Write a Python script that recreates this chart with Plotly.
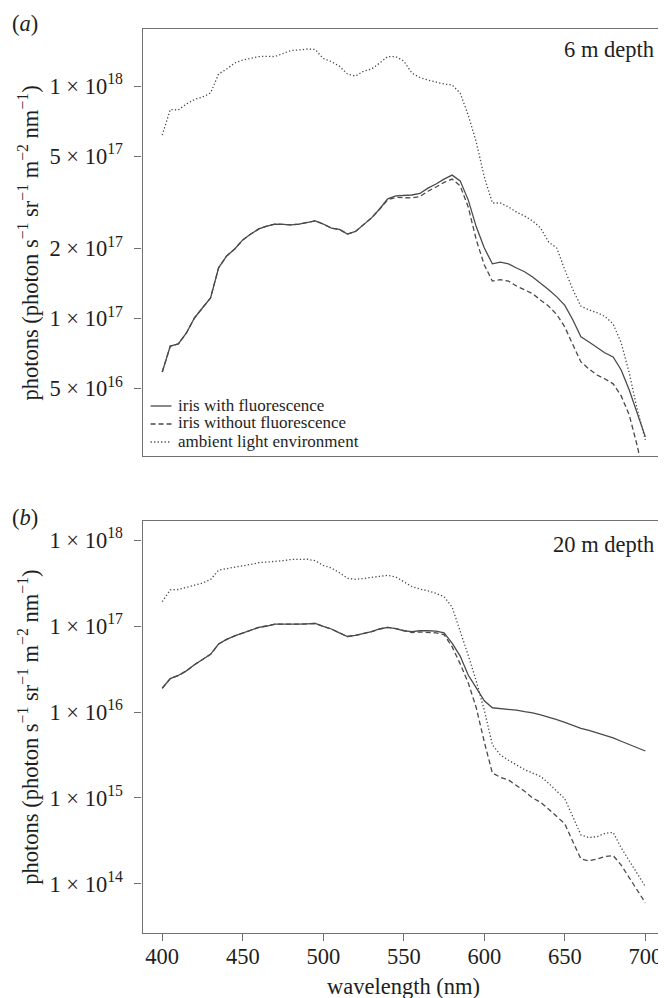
import plotly.graph_objects as go

# ---------------- data ----------------
wavelength = list(range(400, 705, 5))

# (a) 6 m depth
a_with_fluor = [5.89e16, 7.62e16, 7.78e16, 8.67e16, 1.006e17, 1.111e17, 1.228e17, 1.652e17, 1.858e17, 1.991e17,
                2.18e17, 2.31e17, 2.43e17, 2.50e17, 2.55e17, 2.54e17, 2.53e17, 2.55e17, 2.59e17, 2.63e17,
                2.55e17, 2.45e17, 2.42e17, 2.31e17, 2.37e17, 2.53e17, 2.71e17, 2.96e17, 3.27e17, 3.37e17,
                3.38e17, 3.40e17, 3.45e17, 3.64e17, 3.79e17, 3.98e17, 4.14e17, 3.91e17, 3.24e17, 2.48e17,
                2.01e17, 1.72e17, 1.75e17, 1.72e17, 1.65e17, 1.59e17, 1.51e17, 1.42e17, 1.33e17, 1.24e17,
                1.14e17, 9.86e16, 8.34e16, 7.93e16, 7.48e16, 7.11e16, 6.84e16, 6.01e16, 4.93e16, 3.89e16,
                3.10e16]
a_without_fluor = [5.89e16, 7.62e16, 7.78e16, 8.67e16, 1.006e17, 1.111e17, 1.228e17, 1.652e17, 1.858e17, 1.991e17,
                   2.18e17, 2.31e17, 2.43e17, 2.50e17, 2.55e17, 2.54e17, 2.53e17, 2.55e17, 2.59e17, 2.63e17,
                   2.55e17, 2.45e17, 2.42e17, 2.31e17, 2.37e17, 2.53e17, 2.71e17, 2.96e17, 3.24e17, 3.32e17,
                   3.30e17, 3.30e17, 3.35e17, 3.53e17, 3.68e17, 3.85e17, 3.98e17, 3.72e17, 3.02e17, 2.18e17,
                   1.70e17, 1.45e17, 1.47e17, 1.45e17, 1.38e17, 1.33e17, 1.28e17, 1.20e17, 1.13e17, 1.04e17,
                   9.20e16, 7.71e16, 6.51e16, 6.07e16, 5.72e16, 5.50e16, 5.24e16, 4.65e16, 3.85e16, 2.83e16,
                   1.93e16]
a_ambient = [6.15e17, 7.93e17, 7.89e17, 8.37e17, 8.75e17, 8.97e17, 9.33e17, 1.127e18, 1.183e18, 1.256e18,
             1.294e18, 1.319e18, 1.339e18, 1.342e18, 1.339e18, 1.380e18, 1.422e18, 1.429e18, 1.443e18, 1.436e18,
             1.313e18, 1.274e18, 1.218e18, 1.127e18, 1.104e18, 1.159e18, 1.183e18, 1.256e18, 1.339e18, 1.339e18,
             1.280e18, 1.137e18, 1.088e18, 1.061e18, 1.040e18, 1.020e18, 1.010e18, 9.33e17, 7.50e17, 5.74e17,
             4.06e17, 3.14e17, 3.14e17, 3.02e17, 2.87e17, 2.76e17, 2.63e17, 2.45e17, 2.13e17, 2.01e17,
             1.62e17, 1.33e17, 1.13e17, 1.09e17, 1.06e17, 1.02e17, 9.48e16, 7.86e16, 5.84e16, 4.05e16,
             3.01e16]

# (b) 20 m depth
b_with_fluor = [1.89e16, 2.45e16, 2.66e16, 3.01e16, 3.55e16, 4.07e16, 4.68e16, 6.17e16, 7.00e16, 7.67e16,
                8.32e16, 9.02e16, 9.66e16, 1.00e17, 1.05e17, 1.05e17, 1.04e17, 1.05e17, 1.06e17, 1.07e17,
                9.89e16, 9.23e16, 8.32e16, 7.55e16, 7.76e16, 8.13e16, 8.61e16, 9.23e16, 9.66e16, 9.33e16,
                8.81e16, 8.61e16, 8.81e16, 8.81e16, 8.71e16, 8.32e16, 6.31e16, 4.47e16, 2.69e16, 1.91e16,
                1.35e16, 1.12e16, 1.10e16, 1.08e16, 1.05e16, 1.01e16, 9.77e15, 9.23e15, 8.71e15, 8.13e15,
                7.59e15, 7.00e15, 6.46e15, 6.10e15, 5.75e15, 5.37e15, 5.01e15, 4.57e15, 4.17e15, 3.78e15,
                3.52e15]
b_without_fluor = [1.89e16, 2.45e16, 2.66e16, 3.01e16, 3.55e16, 4.07e16, 4.68e16, 6.17e16, 7.00e16, 7.67e16,
                   8.32e16, 9.02e16, 9.66e16, 1.00e17, 1.05e17, 1.05e17, 1.04e17, 1.05e17, 1.06e17, 1.07e17,
                   9.89e16, 9.23e16, 8.32e16, 7.55e16, 7.76e16, 8.13e16, 8.61e16, 9.23e16, 9.66e16, 9.33e16,
                   8.81e16, 8.41e16, 8.51e16, 8.41e16, 8.32e16, 7.94e16, 5.75e16, 3.63e16, 2.19e16, 1.12e16,
                   4.47e15, 1.95e15, 1.74e15, 1.62e15, 1.41e15, 1.20e15, 1.00e15, 8.91e14, 7.41e14, 6.17e14,
                   5.01e14, 3.09e14, 1.95e14, 1.86e14, 1.95e14, 2.09e14, 2.14e14, 1.66e14, 1.17e14, 8.51e13,
                   6.03e13]
b_ambient = [1.92e17, 2.63e17, 2.66e17, 2.82e17, 3.02e17, 3.16e17, 3.47e17, 4.45e17, 4.65e17, 4.81e17,
             4.98e17, 5.21e17, 5.45e17, 5.52e17, 5.60e17, 5.75e17, 5.94e17, 5.97e17, 5.98e17, 5.75e17,
             5.07e17, 4.73e17, 4.17e17, 3.59e17, 3.49e17, 3.57e17, 3.67e17, 3.85e17, 3.89e17, 3.72e17,
             3.31e17, 2.88e17, 2.69e17, 2.57e17, 2.40e17, 2.19e17, 1.66e17, 8.97e16, 4.57e16, 2.29e16,
             1.05e16, 4.17e15, 3.16e15, 2.75e15, 2.40e15, 2.14e15, 1.95e15, 1.78e15, 1.48e15, 1.20e15,
             9.77e14, 6.03e14, 3.72e14, 3.47e14, 3.55e14, 3.89e14, 3.98e14, 2.63e14, 1.86e14, 1.32e14,
             9.33e13]

x_ticks = [400, 450, 500, 550, 600, 650, 700]
a_yticks = [5e16, 1e17, 2e17, 5e17, 1e18]
a_yticklabels = ["5 × 10<sup>16</sup>", "1 × 10<sup>17</sup>", "2 × 10<sup>17</sup>",
                 "5 × 10<sup>17</sup>", "1 × 10<sup>18</sup>"]
b_yticks = [1e14, 1e15, 1e16, 1e17, 1e18]
b_yticklabels = ["1 × 10<sup>14</sup>", "1 × 10<sup>15</sup>", "1 × 10<sup>16</sup>",
                 "1 × 10<sup>17</sup>", "1 × 10<sup>18</sup>"]
legend_labels = ["iris with fluorescence", "iris without fluorescence", "ambient light environment"]

# ---------------- styling ----------------
OFF = 8                      # page body margin of the browser
W, H = 666 - OFF, 998 - OFF
FONT = "Liberation Serif"
FS = 22.5
LINE_C = "#4a4a4a"
AXIS_C = "#707070"
TEXT_C = "#1e1e1e"
styles = [dict(color=LINE_C, width=1.3, dash="solid"),
          dict(color=LINE_C, width=1.3, dash="5px,3px"),
          dict(color=LINE_C, width=1.3, dash="1.3px,2.2px")]


def px_x(p):
    return (p - OFF) / W


def px_y(p):
    return 1 - (p - OFF) / H


fig = go.Figure()

series_a = [a_with_fluor, a_without_fluor, a_ambient]
series_b = [b_with_fluor, b_without_fluor, b_ambient]
for s, st, name in zip(series_a, styles, legend_labels):
    fig.add_trace(go.Scatter(x=wavelength, y=s, mode="lines", line=st, name=name,
                             xaxis="x2", yaxis="y2", showlegend=False))
for s, st, name in zip(series_b, styles, legend_labels):
    fig.add_trace(go.Scatter(x=wavelength, y=s, mode="lines", line=st, name=name,
                             xaxis="x", yaxis="y", showlegend=False))

xdom = [px_x(143), px_x(662)]
xrange_ = [387.8, 709.1]
axis_common = dict(showline=True, linecolor=AXIS_C, linewidth=1.3, mirror=True,
                   showgrid=False, zeroline=False)

fig.update_layout(
    width=W, height=H,
    margin=dict(l=0, r=0, t=0, b=0),
    paper_bgcolor="white", plot_bgcolor="white",
    font=dict(family=FONT, size=FS, color=TEXT_C),
    showlegend=False,
    # bottom panel (b)
    xaxis=dict(domain=xdom, range=xrange_, anchor="y", tickmode="array", tickvals=x_ticks,
               ticks="outside", ticklen=7, tickwidth=1.2, tickcolor=AXIS_C,
               ticklabelstandoff=-4, tickfont=dict(size=FS, color=TEXT_C), **axis_common),
    yaxis=dict(domain=[px_y(933), px_y(520.5)], type="log", range=[13.430, 18.227], anchor="x",
               tickmode="array", tickvals=b_yticks, ticktext=b_yticklabels,
               ticks="outside", ticklen=7, tickwidth=1.2, tickcolor=AXIS_C,
               ticklabelstandoff=7, tickfont=dict(size=FS, color=TEXT_C), **axis_common),
    # top panel (a)
    xaxis2=dict(domain=xdom, range=xrange_, anchor="y2", showticklabels=False, ticks="",
                **axis_common),
    yaxis2=dict(domain=[px_y(456), px_y(29.3)], type="log", range=[16.409, 18.244], anchor="x2",
                tickmode="array", tickvals=a_yticks, ticktext=a_yticklabels,
                ticks="outside", ticklen=7, tickwidth=1.2, tickcolor=AXIS_C,
                ticklabelstandoff=7, tickfont=dict(size=FS, color=TEXT_C), **axis_common),
)

ann = []
ytitle = "photons (photon s<sup>−1</sup> sr<sup>−1</sup> m<sup>−2</sup> nm<sup>−1</sup>)"
for yc in [(29.3 + 456) / 2, (520.5 + 933) / 2]:
    ann.append(dict(text=ytitle, x=px_x(28), y=px_y(yc), xref="paper", yref="paper",
                    textangle=-90, showarrow=False, xanchor="center", yanchor="middle",
                    font=dict(size=FS, color=TEXT_C)))
ann.append(dict(text="wavelength (nm)", x=px_x(405), y=px_y(986), xref="paper", yref="paper",
                showarrow=False, xanchor="center", yanchor="middle", font=dict(size=FS, color=TEXT_C)))
ann.append(dict(text="(<i>a</i>)", x=px_x(10), y=px_y(24), xref="paper", yref="paper",
                showarrow=False, xanchor="left", yanchor="middle", font=dict(size=FS, color=TEXT_C)))
ann.append(dict(text="(<i>b</i>)", x=px_x(10), y=px_y(517), xref="paper", yref="paper",
                showarrow=False, xanchor="left", yanchor="middle", font=dict(size=FS, color=TEXT_C)))
ann.append(dict(text="6 m depth", x=px_x(658), y=px_y(49), xref="paper", yref="paper",
                showarrow=False, xanchor="right", yanchor="middle", font=dict(size=FS, color=TEXT_C)))
ann.append(dict(text="20 m depth", x=px_x(658), y=px_y(544), xref="paper", yref="paper",
                showarrow=False, xanchor="right", yanchor="middle", font=dict(size=FS, color=TEXT_C)))

# legend (top panel), drawn as text + sample lines
shapes = []
leg_y = [405, 423, 441]
for lab, st, yy in zip(legend_labels, styles, leg_y):
    ann.append(dict(text=lab, x=px_x(177), y=px_y(yy), xref="paper", yref="paper",
                    showarrow=False, xanchor="left", yanchor="middle", font=dict(size=17, color=TEXT_C)))
    shapes.append(dict(type="line", xref="paper", yref="paper",
                       x0=px_x(151), x1=px_x(172), y0=px_y(yy + 1), y1=px_y(yy + 1),
                       line=dict(color=st["color"], width=st["width"], dash=st["dash"])))

fig.update_layout(annotations=ann, shapes=shapes)
fig.write_html("out.html")
